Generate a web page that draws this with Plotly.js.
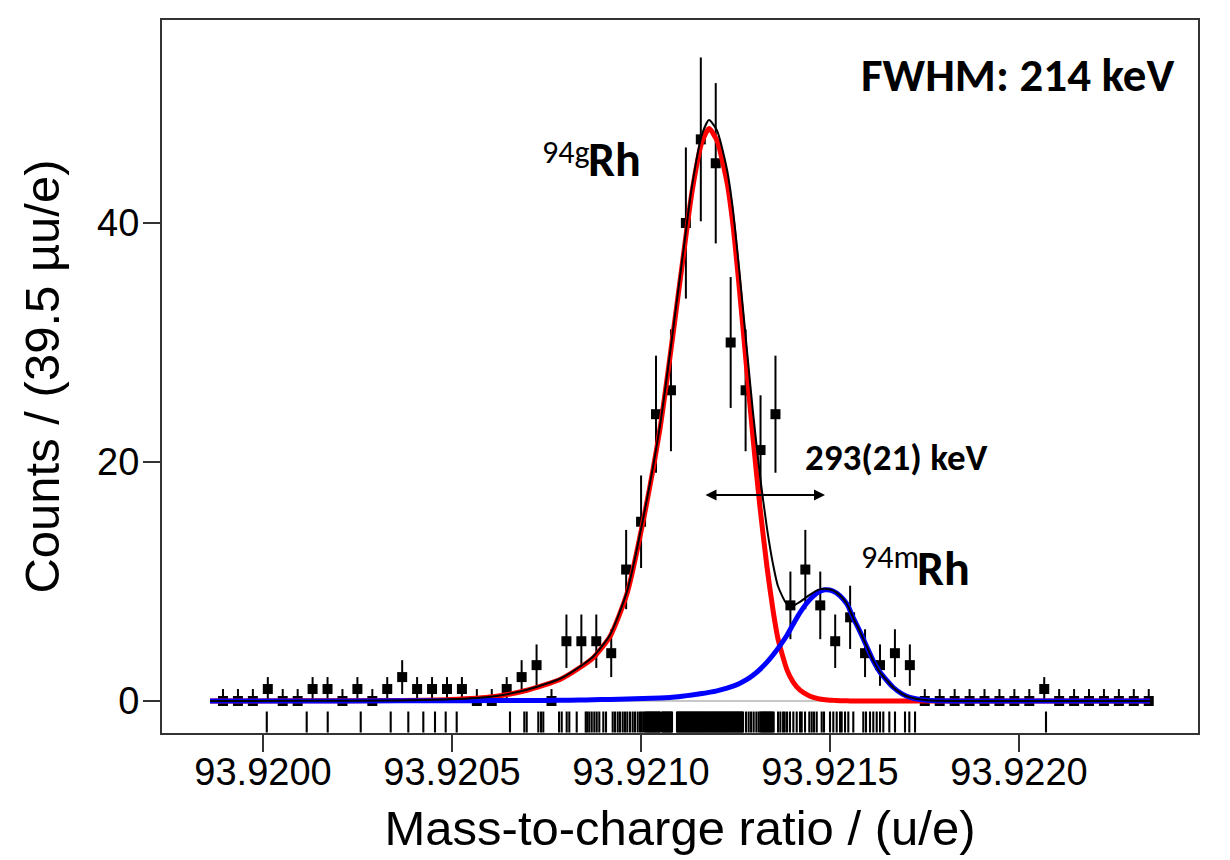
<!DOCTYPE html>
<html>
<head>
<meta charset="utf-8">
<script src="https://cdn.plot.ly/plotly-3.0.1.min.js"></script>
<style>
  html, body { margin: 0; padding: 0; background: #fff; }
  #chart { width: 1230px; height: 860px; }
</style>
</head>
<body>
<div id="chart"></div>
<script>
// binned counts, 39.5 uu/e per bin
const binX = [93.9198942, 93.9199337, 93.9199732, 93.9200127, 93.9200522, 93.9200917, 93.9201312, 93.9201707,
  93.9202102, 93.9202497, 93.9202892, 93.9203287, 93.9203682, 93.9204077, 93.9204472, 93.9204867,
  93.9205262, 93.9205657, 93.9206052, 93.9206447, 93.9206842, 93.9207237, 93.9207632, 93.9208027,
  93.9208422, 93.9208817, 93.9209212, 93.9209607, 93.9210002, 93.9210397, 93.9210792, 93.9211187,
  93.9211582, 93.9211977, 93.9212372, 93.9212767, 93.9213162, 93.9213557, 93.9213952, 93.9214347,
  93.9214742, 93.9215137, 93.9215532, 93.9215927, 93.9216322, 93.9216717, 93.9217112, 93.9217507,
  93.9217902, 93.9218297, 93.9218692, 93.9219087, 93.9219482, 93.9219877, 93.9220272, 93.9220667,
  93.9221062, 93.9221457, 93.9221852, 93.9222247, 93.9222642, 93.9223037, 93.9223432];
const counts = [0, 0, 0, 1, 0, 0, 1, 1, 0, 1, 0, 1, 2, 1, 1, 1, 1, 0, 0, 1, 2, 3, 0,
  5, 5, 5, 4, 11, 15, 24, 26, 40, 47, 45, 30, 26, 21, 24, 8, 11, 8, 5, 7, 4, 3, 4, 3,
  0, 0, 0, 0, 0, 0, 0, 0, 1, 0, 0, 0, 0, 0, 0, 0];

// fit components
const curveX = [93.9198598, 93.9200979, 93.9203624, 93.9204947, 93.9206085, 93.9206984, 93.9207857,
  93.9208386, 93.9208730, 93.9209180, 93.9209630, 93.9210053, 93.9210503, 93.9210767, 93.9211085,
  93.9211349, 93.9211614, 93.9211799, 93.9212010, 93.9212275, 93.9212434, 93.9212593, 93.9212804,
  93.9212963, 93.9213148, 93.9213333, 93.9213492, 93.9213624, 93.9213862, 93.9214021, 93.9214206,
  93.9214471, 93.9214683, 93.9214868, 93.9215080, 93.9215265, 93.9215450, 93.9215608, 93.9215794,
  93.9215979, 93.9216138, 93.9216323, 93.9216508, 93.9216667, 93.9216905, 93.9217116, 93.9217566,
  93.9218439, 93.9223466];
const groundFit = [0, 0.01, 0.04, 0.12, 0.35, 0.9, 1.8, 2.8, 3.6, 5.4,
  9.0, 15.0, 22.8, 28.8, 36.4, 42.6, 46.8, 47.9, 46.9, 43.4,
  39.8, 34.8, 27.5, 22.0, 16.2, 11.2, 7.6, 5.2, 2.6, 1.6,
  0.9, 0.4, 0.2, 0.1, 0.05, 0.02, 0.01, 0, 0, 0,
  0, 0, 0, 0, 0, 0, 0, 0, 0];
const isomerFit = [0, 0, 0.01, 0.02, 0.03, 0.04, 0.06, 0.08, 0.1, 0.13,
  0.17, 0.21, 0.25, 0.3, 0.4, 0.5, 0.62, 0.72, 0.85, 1.08,
  1.25, 1.45, 1.8, 2.15, 2.65, 3.25, 3.85, 4.4, 5.5, 6.4,
  7.4, 8.5, 9.1, 9.3, 9.2, 8.8, 8.1, 7.0, 5.8, 4.5,
  3.4, 2.4, 1.7, 1.15, 0.6, 0.3, 0.06, 0, 0];

// unbinned events, in uu/e above 93.9200
const events = [10, 115.6, 171.2, 258.5, 337.8, 384.4, 424.1, 455.0, 483.3, 512.4, 653.4, 691.3, 697.6,
  728.3, 735.4, 741.5, 783.1, 790.2, 803.4, 810.3, 829.9, 853.7, 857.9, 863.2, 869.6, 876.5, 882.8,
  889.7, 900.3, 907.4, 925.1, 931.2, 938.4, 944.4, 951.6, 957.7, 963.8, 970.9, 978.0, 984.1, 991.3,
  997.4, 1001.8, 1006.1, 1010.5, 1013.2, 1016.5, 1018.5, 1021.5, 1023.8, 1026.5, 1029.1, 1031.8,
  1034.4, 1037.0, 1039.7, 1042.4, 1045.0, 1047.6, 1050.3, 1055.6, 1058.2, 1060.9, 1063.5, 1066.1,
  1068.8, 1071.4, 1074.0, 1076.7, 1079.3, 1082.0, 1095.2, 1097.8, 1100.5, 1103.1, 1105.8, 1108.4,
  1111.1, 1113.7, 1116.4, 1119.0, 1121.7, 1124.3, 1127.0, 1129.6, 1132.3, 1134.9, 1137.6, 1140.2,
  1142.9, 1145.5, 1148.1, 1150.8, 1153.4, 1156.0, 1158.7, 1161.3, 1164.0, 1166.6, 1169.3, 1171.9,
  1174.6, 1177.2, 1179.9, 1182.5, 1185.2, 1187.8, 1190.5, 1193.1, 1195.8, 1198.4, 1201.1, 1203.7,
  1206.4, 1209.0, 1211.7, 1214.3, 1217.0, 1219.6, 1222.2, 1224.9, 1227.5, 1230.2, 1232.8, 1235.4,
  1238.1, 1240.7, 1243.4, 1246.0, 1248.7, 1251.3, 1254.0, 1256.6, 1259.3, 1261.9, 1264.6, 1267.2,
  1269.9, 1277.8, 1284.8, 1291.2, 1298.0, 1305.2, 1311.3, 1315.8, 1318.5, 1321.1, 1323.8, 1326.4,
  1329.0, 1331.7, 1334.3, 1337.0, 1339.6, 1342.3, 1344.9, 1347.5, 1351.0, 1362.6, 1368.7, 1375.9,
  1380.1, 1386.4, 1394.1, 1403.0, 1411.9, 1420.6, 1425.1, 1433.9, 1445.2, 1451.6, 1457.7, 1464.8,
  1478.0, 1484.1, 1500.0, 1508.7, 1517.7, 1526.5, 1530.9, 1539.7, 1548.4, 1561.6, 1588.1, 1595.2,
  1605.8, 1614.5, 1623.5, 1632.3, 1641.0, 1656.9, 1671.9, 1698.4, 1709.8, 1724.9, 2071.4];

const xTickVals = [93.9200, 93.9205, 93.9210, 93.9215, 93.9220];
const xTickText = ['93.9200', '93.9205', '93.9210', '93.9215', '93.9220'];
const yTickVals = [0, 20, 40];

const axisFont = 'Liberation Sans, Arial, sans-serif';
const labelFont = 'Carlito, Lato, sans-serif';

// poisson errors, zero bins get +1
const errUp = counts.map(c => c > 0 ? Math.sqrt(c) : 1);
const errDown = counts.map(c => Math.sqrt(c));
const totalFit = groundFit.map((v, i) => v + isomerFit[i]);
const eventX = events.map(v => 93.92 + v * 1e-6);

let trace_data = {
    x: binX, y: counts,
    type: 'scatter', mode: 'markers',
    marker: { symbol: 'square', size: 10, color: 'black' },
    error_y: { type: 'data', symmetric: false, array: errUp, arrayminus: errDown,
               thickness: 2, width: 0, color: 'black' },
};
let trace_rug = {
    x: eventX, y: eventX.map(() => -1.76),
    type: 'scatter', mode: 'markers',
    marker: { symbol: 'line-ns-open', size: 15, color: 'black', line: { width: 2.1, color: 'black' } },
};
let trace_g = {
    x: curveX, y: groundFit, type: 'scatter', mode: 'lines',
    line: { color: '#ff0000', width: 5, shape: 'spline', smoothing: 0.6 },
};
let trace_m = {
    x: curveX, y: isomerFit, type: 'scatter', mode: 'lines',
    line: { color: '#0000ff', width: 5, shape: 'spline', smoothing: 0.6 },
};
let trace_sum = {
    x: curveX, y: totalFit, type: 'scatter', mode: 'lines',
    line: { color: 'black', width: 2, shape: 'spline', smoothing: 0.6 },
};

// isotope label: small prefix + bold symbol
const isoLabel = (prefix, xl, yPre, yRh) => [
    { xref: 'paper', yref: 'paper', x: xl, y: yPre, xanchor: 'right', yanchor: 'middle',
      text: prefix, showarrow: false, borderpad: 0,
      font: { family: labelFont, size: 32, color: 'black' } },
    { xref: 'paper', yref: 'paper', x: xl - 0.004, y: yRh, xanchor: 'left', yanchor: 'middle',
      text: '<b>Rh</b>', showarrow: false, borderpad: 0,
      font: { family: labelFont, size: 48, color: 'black' } },
];

let layout = {
    width: 1230, height: 860,
    margin: { l: 162, r: 32, t: 20, b: 127 },
    paper_bgcolor: 'white', plot_bgcolor: 'white',
    showlegend: false,
    font: { family: axisFont, color: 'black' },
    xaxis: {
        range: [93.9197328, 93.9224735],
        tickvals: xTickVals, ticktext: xTickText,
        ticks: 'outside', ticklen: 17, tickwidth: 1.5, tickcolor: '#333',
        ticklabelstandoff: -13,
        showline: true, linewidth: 2, linecolor: '#333', mirror: true,
        showgrid: false, zeroline: false,
        tickfont: { size: 38 },
        title: { text: 'Mass-to-charge ratio / (u/e)', font: { size: 49 }, standoff: 19 },
    },
    yaxis: {
        range: [-2.68, 56.99],
        tickvals: yTickVals,
        ticks: 'outside', ticklen: 17, tickwidth: 1.5, tickcolor: '#333',
        ticklabelstandoff: -4,
        showline: true, linewidth: 2, linecolor: '#333', mirror: true,
        showgrid: false, zeroline: false,
        tickfont: { size: 38 },
        title: { text: 'Counts / (39.5 \u00b5u/e)', font: { size: 49 }, standoff: 22 },
    },
    shapes: [
        { type: 'line', layer: 'below', xref: 'x', yref: 'y',
          x0: curveX[0], x1: curveX[curveX.length - 1], y0: 0, y1: 0,
          line: { color: '#c8c8c8', width: 2 } },
    ],
    annotations: [
        { xref: 'paper', yref: 'paper', x: 0.98, y: 0.923, xanchor: 'right', yanchor: 'middle',
          text: '<b>FWHM: 214 keV</b>', showarrow: false,
          font: { family: labelFont, size: 47, color: 'black' } },
        ...isoLabel('94g', 0.4141, 0.814, 0.8045),
        ...isoLabel('94m', 0.7318, 0.246, 0.231),
        { xref: 'paper', yref: 'paper', x: 0.619, y: 0.386, xanchor: 'left', yanchor: 'middle',
          text: '<b>293(21) keV</b>', showarrow: false,
          font: { family: labelFont, size: 37, color: 'black' } },
        { xref: 'x', yref: 'y', axref: 'x', ayref: 'y',
          x: 93.9214868, y: 17.24, ax: 93.9211667, ay: 17.24,
          text: '', showarrow: true, arrowside: 'end+start',
          arrowhead: 2, startarrowhead: 2, arrowsize: 1.1, startarrowsize: 1.1,
          arrowwidth: 2, arrowcolor: 'black', standoff: 0, startstandoff: 0 },
    ],
};

let config = { responsive: false, displayModeBar: false, staticPlot: true };
Plotly.newPlot('chart', [trace_data, trace_rug, trace_g, trace_m, trace_sum], layout, config);
</script>
</body>
</html>
